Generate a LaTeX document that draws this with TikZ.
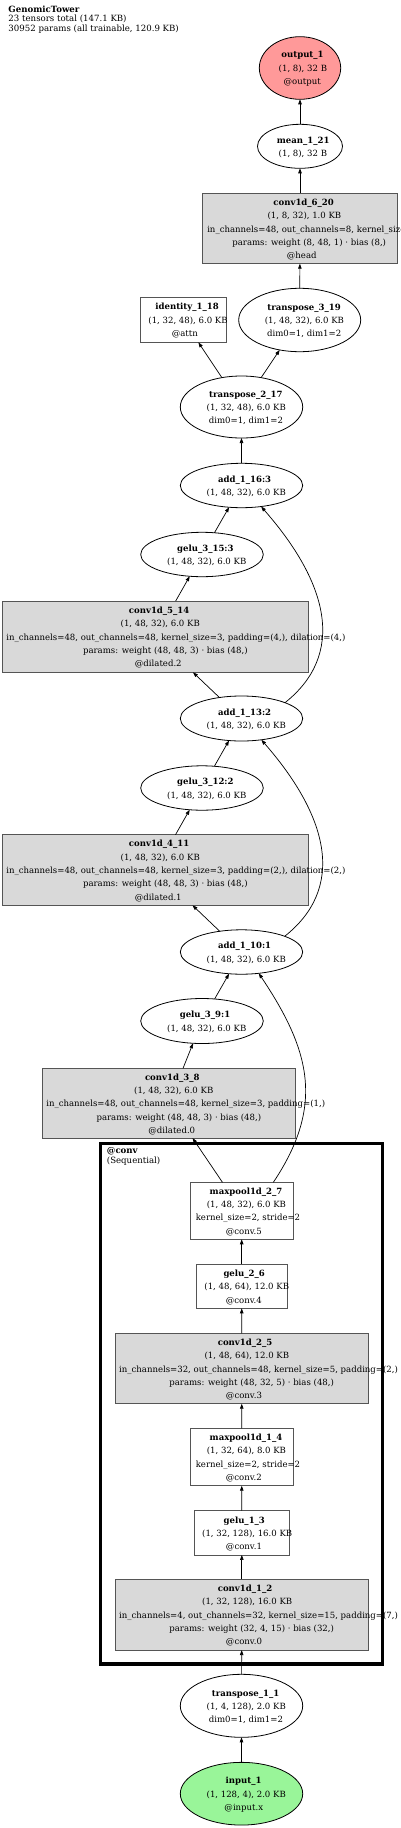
\documentclass[tikz,border=0pt]{standalone}
\usepackage{fontspec}
\setmainfont{DejaVu Serif}
\usetikzlibrary{shapes.geometric,arrows.meta}
\definecolor{outred}{HTML}{FF9999}
\definecolor{ingreen}{HTML}{99F599}
\definecolor{convgray}{HTML}{D9D9D9}
\definecolor{boxgray}{HTML}{555555}
\newcommand\Ln[1]{\setbox0=\hbox{#1}\hbox{\kern0.12\wd0\box0}}
\tikzset{
  shp/.style={inner sep=0pt, outer sep=0pt, line width=0.8pt},
  ell/.style={shp, ellipse, draw=black, fill=white},
  rbox/.style={shp, rectangle, draw=boxgray, fill=white},
  gbox/.style={shp, rectangle, draw=boxgray, fill=convgray},
  lbl/.style={inner sep=0pt, align=center, font=\fontsize{8.55}{13.3}\selectfont, text=black, yshift=-1pt},
  ttl/.style={inner sep=0pt, anchor=base west, font=\fontsize{8.6}{9.7}\selectfont},
  edge/.style={line width=0.7pt, -{Triangle[length=5pt,width=3.5pt]}},
  clusterbox/.style={draw=black, line width=3.5pt},
}
\begin{document}
\begin{tikzpicture}[x=1pt,y=-1pt]
\useasboundingbox (0,0) rectangle (400,1828);
\fill[white] (0,0) rectangle (400,1828);

% title
\node[ttl] (ttl1) at (8.3,12.3) {\textbf{GenomicTower}};
\node[ttl] (ttl2) at (8.3,21.8) {23 tensors total (147.1 KB)};
\node[ttl] (ttl3) at (8.3,31.5) {30952 params (all trainable, 120.9 KB)};

% cluster
\draw[clusterbox] (100.7,1143.3) rectangle (382.7,1664);
\node[ttl] (cl1) at (106.7,1153.8) {\textbf{@conv}};
\node[ttl] (cl2) at (106.7,1163.2) {(Sequential)};

% shapes
\node[ell, fill=outred, minimum width=81.4pt, minimum height=62.6pt] (out1) at (300,68) {};
\node[ell, minimum width=85pt, minimum height=44pt] (m121) at (300,146.3) {};
\node[gbox, minimum width=195.4pt, minimum height=70.4pt] (c620) at (300,228.5) {};
\node[rbox, minimum width=86.7pt, minimum height=45.3pt] (id118) at (183.3,319.7) {};
\node[ell, minimum width=122pt, minimum height=63.4pt] (t319) at (299.7,320) {};
\node[ell, minimum width=122.4pt, minimum height=62pt] (t217) at (241.5,407) {};
\node[ell, minimum width=122.4pt, minimum height=44.4pt] (a16) at (241.5,485.5) {};
\node[ell, minimum width=122.6pt, minimum height=44.4pt] (g15) at (202,554.5) {};
\node[gbox, minimum width=305.6pt, minimum height=71.3pt] (c514) at (155.5,636.7) {};
\node[ell, minimum width=122.4pt, minimum height=45pt] (a13) at (241.5,718.5) {};
\node[ell, minimum width=122.6pt, minimum height=44.4pt] (g12) at (202,788) {};
\node[gbox, minimum width=305.6pt, minimum height=70.6pt] (c411) at (155.5,870) {};
\node[ell, minimum width=122.4pt, minimum height=44.4pt] (a10) at (241.5,952) {};
\node[ell, minimum width=122.6pt, minimum height=45pt] (g9) at (202,1021) {};
\node[gbox, minimum width=253.4pt, minimum height=69.7pt] (c38) at (169,1103.2) {};
\node[rbox, minimum width=102.7pt, minimum height=57pt] (mp27) at (241.7,1210.8) {};
\node[rbox, minimum width=90.7pt, minimum height=44pt] (g26) at (241.7,1286.3) {};
\node[gbox, minimum width=253pt, minimum height=70.4pt] (c25) at (241.8,1368.5) {};
\node[rbox, minimum width=102.7pt, minimum height=57.4pt] (mp14) at (241.7,1457) {};
\node[rbox, minimum width=95pt, minimum height=44.3pt] (g13) at (241.8,1532.8) {};
\node[gbox, minimum width=253pt, minimum height=70.7pt] (c12) at (241.8,1614.7) {};
\node[ell, minimum width=122.4pt, minimum height=63pt] (t11) at (241.5,1705.8) {};
\node[ell, fill=ingreen, minimum width=122.4pt, minimum height=62.7pt] (in1) at (241.5,1793.7) {};

% edges
\draw[edge] (m121) -- (out1);
\draw[edge] (c620) -- (m121);
\draw[edge] (t319) -- (c620);
\draw[edge] (t217) -- (id118);
\draw[edge] (t217) -- (t319);
\draw[edge] (a16) -- (t217);
\draw[edge] (g15) -- (a16);
\draw[edge] (c514) -- (g15);
\draw[edge] (a13) -- (c514);
\draw[edge] (a13.20) .. controls (345,655) and (330,585) .. (a16.-47);
\draw[edge] (g12) -- (a13);
\draw[edge] (c411) -- (g12);
\draw[edge] (a10) -- (c411);
\draw[edge] (a10.20) .. controls (345,888.5) and (330,818.5) .. (a13.-47);
\draw[edge] (g9) -- (a10);
\draw[edge] (c38) -- (g9);
\draw[edge] (mp27) -- (c38);
\draw[edge] (mp27.42) .. controls (325,1105) and (310,1050) .. (a10.-51);
\draw[edge] (g26) -- (mp27);
\draw[edge] (c25) -- (g26);
\draw[edge] (mp14) -- (c25);
\draw[edge] (g13) -- (mp14);
\draw[edge] (c12) -- (g13);
\draw[edge] (t11) -- (c12);
\draw[edge] (in1) -- (t11);

% labels
\node[lbl] (out1-l) at (out1) {\Ln{\textbf{output\_1}}\\\Ln{(1, 8), 32 B}\\\Ln{@output}};
\node[lbl] (m121-l) at (m121) {\Ln{\textbf{mean\_1\_21}}\\\Ln{(1, 8), 32 B}};
\node[lbl] (c620-l) at (c620) {\Ln{\textbf{conv1d\_6\_20}}\\\Ln{(1, 8, 32), 1.0 KB}\\\Ln{in\_channels=48, out\_channels=8, kernel\_size=1}\\\Ln{params: weight (8, 48, 1) · bias (8,)}\\\Ln{@head}};
\node[lbl] (id118-l) at (id118) {\Ln{\textbf{identity\_1\_18}}\\\Ln{(1, 32, 48), 6.0 KB}\\\Ln{@attn}};
\node[lbl] (t319-l) at (t319) {\Ln{\textbf{transpose\_3\_19}}\\\Ln{(1, 48, 32), 6.0 KB}\\\Ln{dim0=1, dim1=2}};
\node[lbl] (t217-l) at (t217) {\Ln{\textbf{transpose\_2\_17}}\\\Ln{(1, 32, 48), 6.0 KB}\\\Ln{dim0=1, dim1=2}};
\node[lbl] (a16-l) at (a16) {\Ln{\textbf{add\_1\_16:3}}\\\Ln{(1, 48, 32), 6.0 KB}};
\node[lbl] (g15-l) at (g15) {\Ln{\textbf{gelu\_3\_15:3}}\\\Ln{(1, 48, 32), 6.0 KB}};
\node[lbl] (c514-l) at (c514) {\Ln{\textbf{conv1d\_5\_14}}\\\Ln{(1, 48, 32), 6.0 KB}\\\Ln{in\_channels=48, out\_channels=48, kernel\_size=3, padding=(4,), dilation=(4,)}\\\Ln{params: weight (48, 48, 3) · bias (48,)}\\\Ln{@dilated.2}};
\node[lbl] (a13-l) at (a13) {\Ln{\textbf{add\_1\_13:2}}\\\Ln{(1, 48, 32), 6.0 KB}};
\node[lbl] (g12-l) at (g12) {\Ln{\textbf{gelu\_3\_12:2}}\\\Ln{(1, 48, 32), 6.0 KB}};
\node[lbl] (c411-l) at (c411) {\Ln{\textbf{conv1d\_4\_11}}\\\Ln{(1, 48, 32), 6.0 KB}\\\Ln{in\_channels=48, out\_channels=48, kernel\_size=3, padding=(2,), dilation=(2,)}\\\Ln{params: weight (48, 48, 3) · bias (48,)}\\\Ln{@dilated.1}};
\node[lbl] (a10-l) at (a10) {\Ln{\textbf{add\_1\_10:1}}\\\Ln{(1, 48, 32), 6.0 KB}};
\node[lbl] (g9-l) at (g9) {\Ln{\textbf{gelu\_3\_9:1}}\\\Ln{(1, 48, 32), 6.0 KB}};
\node[lbl] (c38-l) at (c38) {\Ln{\textbf{conv1d\_3\_8}}\\\Ln{(1, 48, 32), 6.0 KB}\\\Ln{in\_channels=48, out\_channels=48, kernel\_size=3, padding=(1,)}\\\Ln{params: weight (48, 48, 3) · bias (48,)}\\\Ln{@dilated.0}};
\node[lbl] (mp27-l) at (mp27) {\Ln{\textbf{maxpool1d\_2\_7}}\\\Ln{(1, 48, 32), 6.0 KB}\\\Ln{kernel\_size=2, stride=2}\\\Ln{@conv.5}};
\node[lbl] (g26-l) at (g26) {\Ln{\textbf{gelu\_2\_6}}\\\Ln{(1, 48, 64), 12.0 KB}\\\Ln{@conv.4}};
\node[lbl] (c25-l) at (c25) {\Ln{\textbf{conv1d\_2\_5}}\\\Ln{(1, 48, 64), 12.0 KB}\\\Ln{in\_channels=32, out\_channels=48, kernel\_size=5, padding=(2,)}\\\Ln{params: weight (48, 32, 5) · bias (48,)}\\\Ln{@conv.3}};
\node[lbl] (mp14-l) at (mp14) {\Ln{\textbf{maxpool1d\_1\_4}}\\\Ln{(1, 32, 64), 8.0 KB}\\\Ln{kernel\_size=2, stride=2}\\\Ln{@conv.2}};
\node[lbl] (g13-l) at (g13) {\Ln{\textbf{gelu\_1\_3}}\\\Ln{(1, 32, 128), 16.0 KB}\\\Ln{@conv.1}};
\node[lbl] (c12-l) at (c12) {\Ln{\textbf{conv1d\_1\_2}}\\\Ln{(1, 32, 128), 16.0 KB}\\\Ln{in\_channels=4, out\_channels=32, kernel\_size=15, padding=(7,)}\\\Ln{params: weight (32, 4, 15) · bias (32,)}\\\Ln{@conv.0}};
\node[lbl] (t11-l) at (t11) {\Ln{\textbf{transpose\_1\_1}}\\\Ln{(1, 4, 128), 2.0 KB}\\\Ln{dim0=1, dim1=2}};
\node[lbl] (in1-l) at (in1) {\Ln{\textbf{input\_1}}\\\Ln{(1, 128, 4), 2.0 KB}\\\Ln{@input.x}};
\end{tikzpicture}
\end{document}
